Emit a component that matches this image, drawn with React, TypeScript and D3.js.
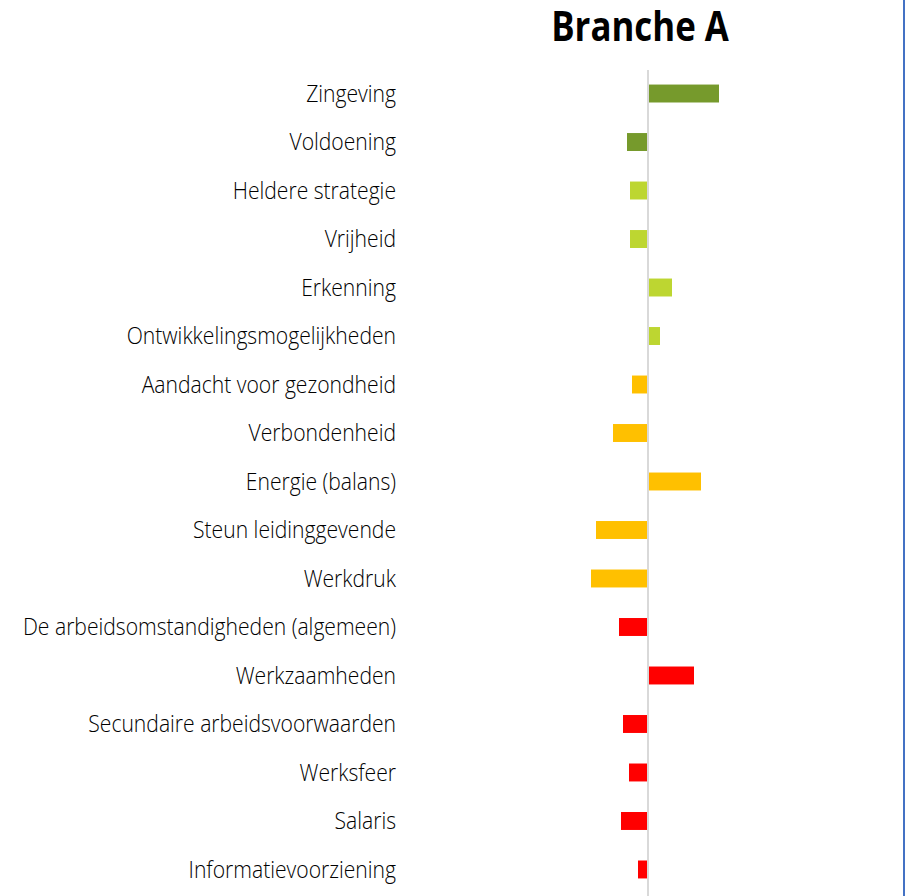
import React, { useEffect, useRef } from 'react';
import * as d3 from 'd3';

const categories = [
  'Zingeving',
  'Voldoening',
  'Heldere strategie',
  'Vrijheid',
  'Erkenning',
  'Ontwikkelingsmogelijkheden',
  'Aandacht voor gezondheid',
  'Verbondenheid',
  'Energie (balans)',
  'Steun leidinggevende',
  'Werkdruk',
  'De arbeidsomstandigheden (algemeen)',
  'Werkzaamheden',
  'Secundaire arbeidsvoorwaarden',
  'Werksfeer',
  'Salaris',
  'Informatievoorziening',
];

const values = [0.71, -0.21, -0.18, -0.18, 0.24, 0.12, -0.16, -0.35, 0.53, -0.52, -0.57, -0.29, 0.46, -0.25, -0.19, -0.27, -0.1];

// colour group per category
const groups = ['dark', 'dark', 'light', 'light', 'light', 'light', 'yellow', 'yellow', 'yellow', 'yellow', 'yellow', 'red', 'red', 'red', 'red', 'red', 'red'];

const colors: Record<string, string> = {
  dark: '#769a2c',
  light: '#bdd631',
  yellow: '#ffc000',
  red: '#ff0000',
};

const title = 'Branche A';

const W = 905;
const H = 896;

export default function App() {
  const ref = useRef<SVGSVGElement>(null);

  useEffect(() => {
    const svg = d3.select(ref.current);
    svg.selectAll('*').remove();

    const x = d3.scaleLinear().domain([-1, 1]).range([548, 748]);
    const y = d3.scaleBand().domain(categories).range([70, 893]).paddingInner(0.63).paddingOuter(0.3);

    svg.append('rect').attr('width', W).attr('height', H).attr('fill', '#ffffff');

    // title
    svg.append('text')
      .attr('transform', `translate(640,41) scale(0.83,1)`)
      .attr('text-anchor', 'middle')
      .attr('font-family', 'Open Sans')
      .attr('font-weight', 700)
      .attr('font-size', 42)
      .attr('fill', '#000')
      .text(title);

    // bars
    svg.append('g')
      .selectAll('rect')
      .data(values)
      .join('rect')
      .attr('x', (d) => Math.min(x(0), x(d)))
      .attr('y', (_, i) => y(categories[i])!)
      .attr('width', (d) => Math.abs(x(d) - x(0)))
      .attr('height', y.bandwidth())
      .attr('fill', (_, i) => colors[groups[i]]);

    // zero line
    svg.append('line')
      .attr('x1', x(0)).attr('x2', x(0))
      .attr('y1', 70).attr('y2', H)
      .attr('stroke', '#d9d9d9')
      .attr('stroke-width', 2);

    // category labels
    svg.append('g')
      .selectAll('text')
      .data(categories)
      .join('text')
      .attr('transform', (d) => `translate(396,${y(d)! + y.bandwidth() / 2}) scale(0.88,1)`)
      .attr('text-anchor', 'end')
      .attr('dy', '0.35em')
      .attr('font-family', 'Open Sans')
      .attr('font-weight', 300)
      .attr('font-size', 24)
      .attr('fill', '#000')
      .text((d) => d);

    // right border
    svg.append('line')
      .attr('x1', 904).attr('x2', 904)
      .attr('y1', 0).attr('y2', H)
      .attr('stroke', '#4472c4')
      .attr('stroke-width', 2);
  }, []);

  return (
    <svg ref={ref} width={W} height={H} style={{ position: 'absolute', left: 0, top: 0, display: 'block' }} />
  );
}
